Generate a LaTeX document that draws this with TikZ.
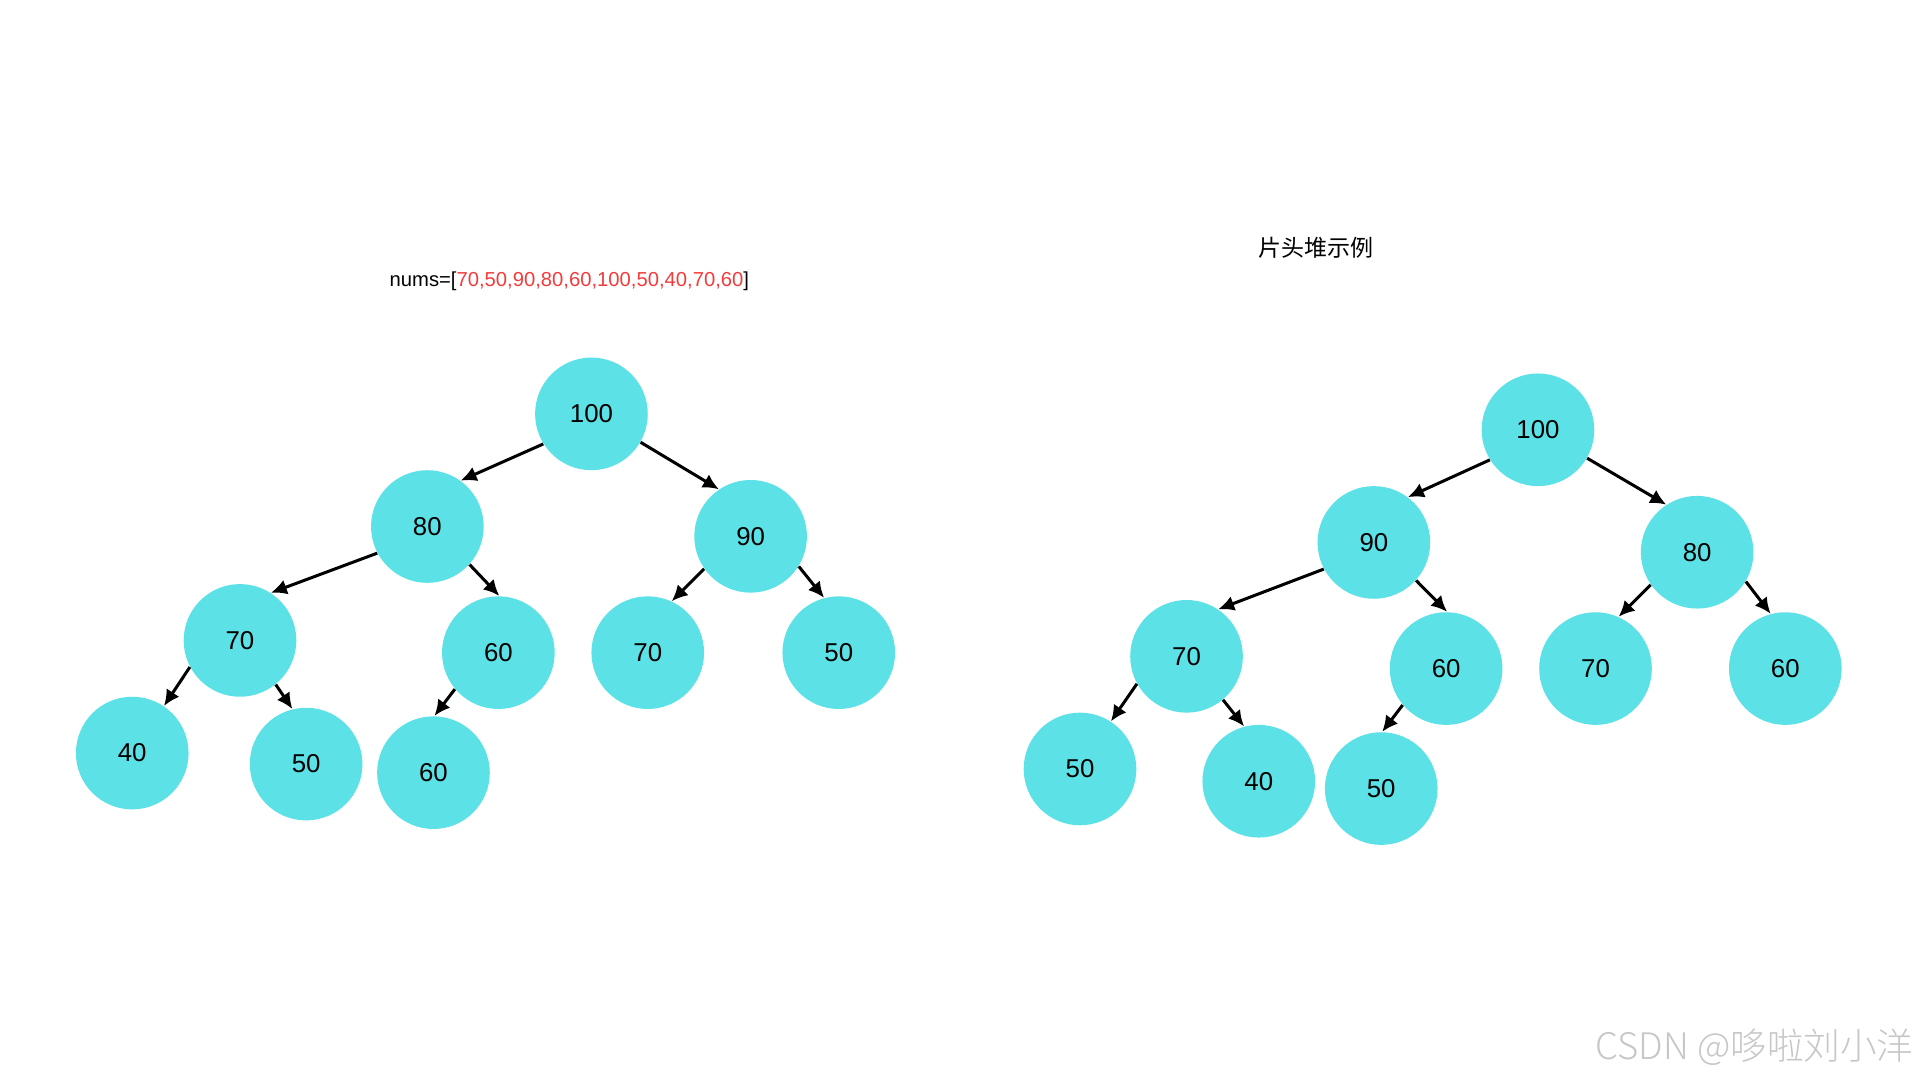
\documentclass[tikz,border=0pt]{standalone}
\usepackage{fontspec}
\setmainfont{Liberation Sans}
\newfontfamily\cjk{Noto Sans CJK SC}
\newfontfamily\cjklight{Noto Sans CJK SC Light}
\usetikzlibrary{arrows.meta}
\definecolor{heapcyan}{HTML}{5CE1E6}
\definecolor{numred}{HTML}{F43B3B}

\begin{document}
\begin{tikzpicture}[x=0.2mm, y=-0.2mm,
    heap/.style={circle, fill=heapcyan, minimum size=18.4mm, inner sep=0pt, font=\fontsize{12}{14}\selectfont},
    edge/.style={-{Latex[length=2.6mm, width=2.5mm]}, line width=1.4pt, black}]
            \useasboundingbox (0,0) rectangle (1568,882);

            % Titles
            \node[font=\fontsize{9.4}{11}\selectfont] (ttl) at (465,230) {nums=[\textcolor{numred}{70,50,90,80,60,100,50,40,70,60}]};
            \node[font=\cjk\fontsize{10.7}{13}\selectfont] (ttr) at (1075,202) {片头堆示例};

            % Input array as a tree
            \node[heap] (a1) at (483,338) {100};
            \node[heap] (a2) at (349,430) {80};
            \node[heap] (a3) at (613,438) {90};
            \node[heap] (a4) at (196,523) {70};
            \node[heap] (a5) at (407,533) {60};
            \node[heap] (a6) at (529,533) {70};
            \node[heap] (a7) at (685,533) {50};
            \node[heap] (a8) at (108,615) {40};
            \node[heap] (a9) at (250,624) {50};
            \node[heap] (a10) at (354,631) {60};

            % Max heap
            \node[heap] (b1) at (1256,351) {100};
            \node[heap] (b2) at (1122,443) {90};
            \node[heap] (b3) at (1386,451) {80};
            \node[heap] (b4) at (969,536) {70};
            \node[heap] (b5) at (1181,546) {60};
            \node[heap] (b6) at (1303,546) {70};
            \node[heap] (b7) at (1458,546) {60};
            \node[heap] (b8) at (882,628) {50};
            \node[heap] (b9) at (1028,638) {40};
            \node[heap] (b10) at (1128,644) {50};

            % Edges
            \draw[edge] (a1.212) -- (a2.54);
            \draw[edge] (a1.330) -- (a3.124);
            \draw[edge] (a2.208) -- (a4.57);
            \draw[edge] (a2.318) -- (a5.89);
            \draw[edge] (a3.215) -- (a6.65);
            \draw[edge] (a3.328) -- (a7.105);
            \draw[edge] (a4.208) -- (a8.56);
            \draw[edge] (a4.309) -- (a9.104);
            \draw[edge] (a5.220) -- (a10.89);

            \draw[edge] (b1.212) -- (b2.53);
            \draw[edge] (b1.330) -- (b3.123);
            \draw[edge] (b2.208) -- (b4.56);
            \draw[edge] (b2.318) -- (b5.89);
            \draw[edge] (b3.215) -- (b6.66);
            \draw[edge] (b3.329) -- (b7.105);
            \draw[edge] (b4.209) -- (b8.57);
            \draw[edge] (b4.310) -- (b9.105);
            \draw[edge] (b5.220) -- (b10.89);

            % Watermark
            \node[anchor=east, text=black!22, inner sep=0pt, font=\cjklight\fontsize{17}{20}\selectfont] (wm) at (1563,855) {CSDN @哆啦刘小洋};
        \end{tikzpicture}
\end{document}
